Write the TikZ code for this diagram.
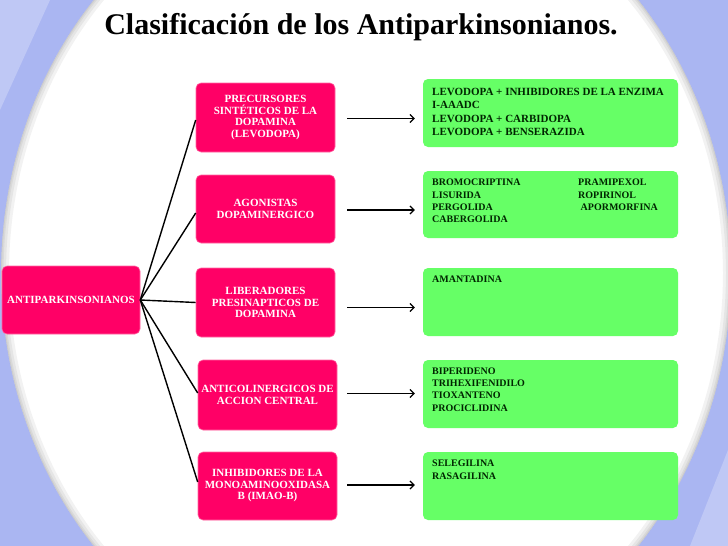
\documentclass[tikz,border=0pt]{standalone}
\usepackage{fontspec}
\setmainfont{Liberation Serif}
\usetikzlibrary{arrows.meta}
\definecolor{bgblue}{RGB}{170,182,242}
\definecolor{pinkbox}{RGB}{255,0,102}
\definecolor{greenbox}{RGB}{102,255,102}
\begin{document}
\begin{tikzpicture}[x=1pt,y=-1pt,
  pinkstyle/.style={draw=pinkbox!60!white, line width=0.6pt, fill=pinkbox, rounded corners=5pt, inner sep=0pt,
    text=white, align=center, font=\bfseries\fontsize{11}{11.5}\selectfont},
  greenstyle/.style={fill=greenbox, rounded corners=5pt, inner sep=0pt},
  gtext/.style={anchor=north west, inner sep=0pt, align=left, text=black!85!green,
    font=\bfseries\fontsize{10}{12.3}\selectfont},
  conn/.style={line width=1.4pt, black},
  arr/.style={line width=1.4pt, black, -{Straight Barb[length=4pt,width=8pt,line width=1.2pt]}}
]
\useasboundingbox (0,0) rectangle (728,546);
% background
\fill[bgblue] (0,0) rectangle (728,546);
\fill[white, opacity=0.25] (0,0) -- (50,0) -- (0,110) -- cycle;
\fill[white, opacity=0.25] (728,546) -- (690,546) -- (728,450) -- cycle;
\def\ovalpath{plot[domain=0:356, samples=90, smooth cycle, variable=\t] ({366+365*cos(\t)}, {273+410*sin(\t)})}
\fill[white] \ovalpath;
\begin{scope}
  \clip \ovalpath;
  \foreach \w in {16,10,5,2}{
    \draw[black, opacity=0.05, line width=\w pt] \ovalpath;
  }
\end{scope}
% title
\node[anchor=base, inner sep=0pt, font=\bfseries\fontsize{30}{34}\selectfont] (title) at (361,34) {Clasificación de los Antiparkinsonianos.};
% root
\node[pinkstyle, minimum width=138pt, minimum height=68pt] (root) at (71,300) {ANTIPARKINSONIANOS};
% pink boxes
\node[pinkstyle, minimum width=139pt, minimum height=69pt] (p1) at (265.5,117.5) {PRECURSORES\\SINTÉTICOS DE LA\\DOPAMINA\\(LEVODOPA)};
\node[pinkstyle, minimum width=139pt, minimum height=68pt] (p2) at (265.5,209) {AGONISTAS\\DOPAMINERGICO};
\node[pinkstyle, minimum width=139pt, minimum height=69pt] (p3) at (265.5,302.5) {LIBERADORES\\PRESINAPTICOS DE\\DOPAMINA};
\node[pinkstyle, minimum width=139pt, minimum height=70pt] (p4) at (267.5,395) {ANTICOLINERGICOS DE\\ACCION CENTRAL};
\node[pinkstyle, minimum width=139pt, minimum height=68pt] (p5) at (267.5,486) {INHIBIDORES DE LA\\MONOAMINOOXIDASA\\B (IMAO-B)};
% green boxes
\node[greenstyle, minimum width=255pt, minimum height=68pt] (g1) at (550.5,113) {};
\node[greenstyle, minimum width=255pt, minimum height=67pt] (g2) at (550.5,204.5) {};
\node[greenstyle, minimum width=255pt, minimum height=68pt] (g3) at (550.5,302) {};
\node[greenstyle, minimum width=255pt, minimum height=68pt] (g4) at (550.5,394) {};
\node[greenstyle, minimum width=255pt, minimum height=68pt] (g5) at (550.5,486) {};
% green texts
\node[gtext, font=\bfseries\fontsize{11}{13.1}\selectfont] (t1) at (432,88.4) {LEVODOPA + INHIBIDORES DE LA ENZIMA\\I-AAADC\\LEVODOPA + CARBIDOPA\\LEVODOPA + BENSERAZIDA};
\node[gtext] (t2) at (432,179) {\makebox[146pt][l]{BROMOCRIPTINA}PRAMIPEXOL\\\makebox[146pt][l]{LISURIDA}ROPIRINOL\\\makebox[146pt][l]{PERGOLIDA}\ APORMORFINA\\CABERGOLIDA};
\node[gtext] (t3) at (432,276.1) {AMANTADINA};
\node[gtext] (t4) at (432,367.4) {BIPERIDENO\\TRIHEXIFENIDILO\\TIOXANTENO\\PROCICLIDINA};
\node[gtext] (t5) at (432,460.1) {SELEGILINA\\RASAGILINA};
% connectors from root
\draw[conn] (root.east) -- ([yshift=-2.5pt]p1.west);
\draw[conn] (root.east) -- ([yshift=-4pt]p2.west);
\draw[conn] (root.east) -- (p3.west);
\draw[conn] (root.east) -- ([yshift=2pt]p4.west);
\draw[conn] (root.east) -- ([yshift=4pt]p5.west);
% arrows
\draw[arr] ([xshift=12pt,yshift=-1pt]p1.east) -- ([xshift=-8pt,yshift=-1pt]p1.east -| g1.west);
\draw[arr] ([xshift=12pt,yshift=-1pt]p2.east) -- ([xshift=-8pt,yshift=-1pt]p2.east -| g2.west);
\draw[arr] ([xshift=12pt,yshift=-5pt]p3.east) -- ([xshift=-8pt,yshift=-5pt]p3.east -| g3.west);
\draw[arr] ([xshift=10pt,yshift=1.5pt]p4.east) -- ([xshift=-8pt,yshift=1.5pt]p4.east -| g4.west);
\draw[arr] ([xshift=10pt,yshift=1pt]p5.east) -- ([xshift=-8pt,yshift=1pt]p5.east -| g5.west);
\end{tikzpicture}
\end{document}
